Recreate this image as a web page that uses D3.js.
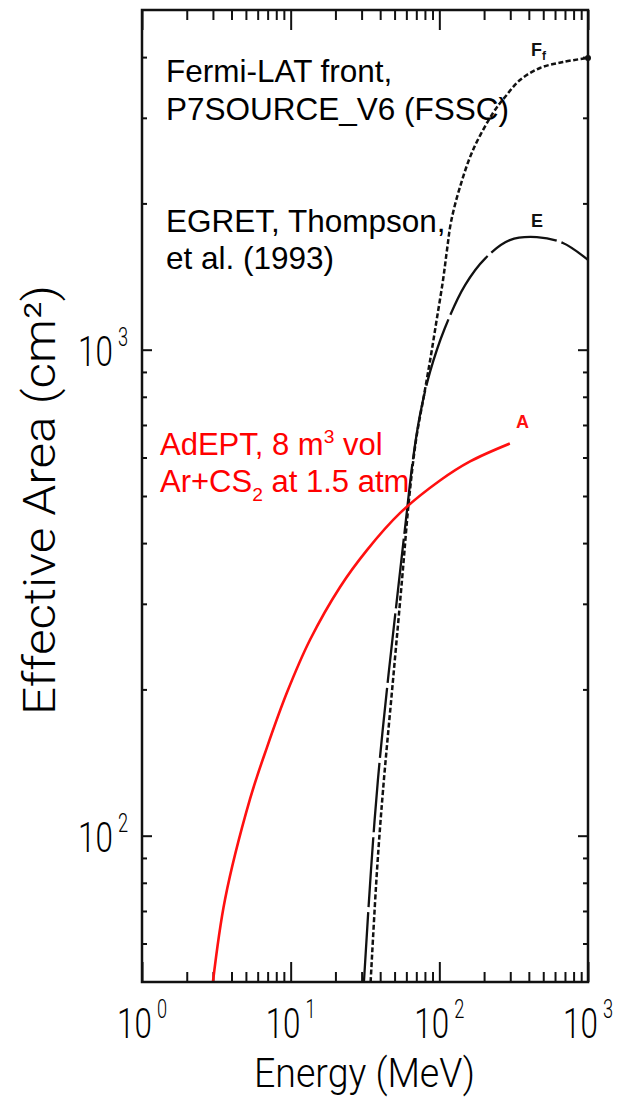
<!DOCTYPE html>
<html>
<head>
<meta charset="utf-8">
<script src="https://cdn.jsdelivr.net/npm/d3@7"></script>
<style>
  body { margin: 0; background: #fff; }
  svg { display: block; }
  text { font-family: "Liberation Sans", Arial, Helvetica, sans-serif; }
  .axfont { font-family: Roboto, "Liberation Sans", sans-serif; font-weight: 300; }
</style>
</head>
<body>
<script>

// axis ticks
var energyTicks = [1, 10, 100, 1000];   // MeV
var areaTicks = [100, 1000];            // cm^2

// AdEPT (red, "A")
var adeptE = [3.0, 3.62, 5.33, 6.93, 9.44, 13.5, 21.5, 32.6, 54.3, 101, 161, 298];
var adeptA = [50, 74, 119, 152, 197, 253, 325, 387, 461, 538, 589, 641];

// EGRET, Thompson et al. 1993 ("E", long dashes)
var egretE = [31.1, 34.7, 38.6, 45.1, 52.7, 59.6, 66.4, 74.1, 86.5, 109, 149, 203, 298, 453, 678, 1000];
var egretA = [50, 85, 130, 209, 320, 446, 593, 734, 899, 1108, 1358, 1540, 1681, 1705, 1658, 1530];

// Fermi-LAT front P7SOURCE_V6 ("Ff", short dashes)
var fermiE = [34.5, 38.1, 41.8, 48.8, 56.1, 62.5, 69.7, 78.9, 87.9, 96.4, 105.9, 112.6, 119.8, 137.7, 168.5, 229.6, 276.6, 348.8, 475.4, 679, 1000];
var fermiA = [50, 85, 124, 209, 336, 491, 652, 807, 975, 1162, 1391, 1604, 1831, 2162, 2576, 3069, 3311, 3589, 3799, 3908, 3985];

var margin = {top: 10, right: 31, bottom: 119, left: 142};
var width = 619 - margin.left - margin.right,
    height = 1101 - margin.top - margin.bottom;

var svg = d3.select("body").append("svg")
    .attr("width", 619)
    .attr("height", 1101);

var x = d3.scaleLog().domain([1, 1000]).range([margin.left, margin.left + width]);
var y = d3.scaleLog().domain([50, 5000]).range([margin.top + height, margin.top]);

var x0 = margin.left, x1 = margin.left + width;
var y0 = margin.top + height, y1 = margin.top;

function isDecade(v) {
    var l = Math.log10(v);
    return Math.abs(l - Math.round(l)) < 1e-9;
}
var xMinor = x.ticks().filter(function (d) { return !isDecade(d); });
var yMinor = y.ticks().filter(function (d) { return !isDecade(d) && d > 50 && d < 5000; });

// inward ticks on all four sides
function tickAxis(axis, vals, size, tx, ty) {
    svg.append("g")
        .attr("transform", "translate(" + tx + "," + ty + ")")
        .call(axis.tickValues(vals).tickSize(size).tickSizeOuter(0).tickFormat(""))
        .call(function (g) {
            g.select(".domain").remove();
            g.selectAll("line").attr("stroke", "#111").attr("stroke-width", 2);
        });
}
tickAxis(d3.axisBottom(x), xMinor, -10, 0, y0);
tickAxis(d3.axisBottom(x), energyTicks, -20, 0, y0);
tickAxis(d3.axisTop(x), xMinor, -10, 0, y1);
tickAxis(d3.axisTop(x), energyTicks, -20, 0, y1);
tickAxis(d3.axisLeft(y), yMinor, -5, x0, 0);
tickAxis(d3.axisLeft(y), areaTicks, -10, x0, 0);
tickAxis(d3.axisRight(y), yMinor, -5, x1, 0);
tickAxis(d3.axisRight(y), areaTicks, -10, x1, 0);

// curves
var line = d3.line()
    .x(function (d) { return x(d[0]); })
    .y(function (d) { return y(d[1]); })
    .curve(d3.curveCatmullRom.alpha(0.5));

svg.append("path")
    .datum(d3.zip(egretE, egretA))
    .attr("d", line)
    .attr("fill", "none")
    .attr("stroke", "#111")
    .attr("stroke-width", 2.3)
    .attr("stroke-dasharray", "70,5");

svg.append("path")
    .datum(d3.zip(fermiE, fermiA))
    .attr("d", line)
    .attr("fill", "none")
    .attr("stroke", "#111")
    .attr("stroke-width", 2.5)
    .attr("stroke-dasharray", "5,2.5");

svg.append("circle")
    .attr("cx", x(fermiE[fermiE.length - 1]))
    .attr("cy", y(fermiA[fermiA.length - 1]))
    .attr("r", 3)
    .attr("fill", "#111");

svg.append("path")
    .datum(d3.zip(adeptE, adeptA))
    .attr("d", line)
    .attr("fill", "none")
    .attr("stroke", "#ff1010")
    .attr("stroke-width", 2.6);

// frame
svg.append("rect")
    .attr("x", x0).attr("y", y1)
    .attr("width", width).attr("height", height)
    .attr("fill", "none")
    .attr("stroke", "#111")
    .attr("stroke-width", 2.5);

// tick labels 10^n (narrow face: squeezed horizontally)
function powLabel(bx, by, n) {
    var t = svg.append("text").attr("class", "axfont")
        .attr("transform", "translate(" + bx + "," + by + ") scale(0.73,1)")
        .attr("font-size", 43);
    t.append("tspan").text("10");
    t.append("tspan").attr("font-size", 25).attr("dx", 7).attr("dy", -20).text(n);
}
energyTicks.forEach(function (d) {
    powLabel(x(d) - 25, y0 + 56, Math.round(Math.log10(d)));
});
areaTicks.forEach(function (d) {
    powLabel(78, y(d) + 16, Math.round(Math.log10(d)));
});

// axis titles
svg.append("text").attr("class", "axfont")
    .attr("x", 254).attr("y", 1087)
    .attr("font-size", 40)
    .attr("textLength", 221).attr("lengthAdjust", "spacingAndGlyphs")
    .text("Energy  (MeV)");

svg.append("text").attr("class", "axfont")
    .attr("transform", "translate(55,715) rotate(-90)")
    .attr("font-size", 44)
    .attr("textLength", 430).attr("lengthAdjust", "spacingAndGlyphs")
    .text("Effective  Area  (cm²)");

// curve tags
function tag(px, py, main, sub, color) {
    var t = svg.append("text").attr("x", px).attr("y", py)
        .attr("font-size", 18).attr("font-weight", "bold").attr("fill", color);
    t.append("tspan").text(main);
    if (sub) t.append("tspan").attr("font-size", 12).attr("dy", 4).text(sub);
}
tag(531, 56, "F", "f", "#111");
tag(531, 227, "E", null, "#111");
tag(516, 428, "A", null, "#ff1010");

// annotations
function note(px, py, parts, color, size) {
    var t = svg.append("text").attr("x", px).attr("y", py)
        .attr("font-size", size).attr("fill", color);
    parts.forEach(function (p) {
        var s = t.append("tspan").text(p.t);
        if (p.sup) s.attr("font-size", size * 0.62).attr("dy", -size * 0.38);
        if (p.sub) s.attr("font-size", size * 0.62).attr("dy", size * 0.3);
        if (p.back) s.attr("dy", p.back);
    });
}
note(166, 82, [{t: "Fermi-LAT front,"}], "#000", 31.5);
note(166, 120, [{t: "P7SOURCE_V6 (FSSC)"}], "#000", 31.5);
note(166, 232, [{t: "EGRET, Thompson,"}], "#000", 31.5);
note(166, 269, [{t: "et al. (1993)"}], "#000", 31.5);
note(160, 455, [{t: "AdEPT, 8 m"}, {t: "3", sup: true}, {t: " vol", back: 31 * 0.38}], "#ff0000", 31);
note(160, 492, [{t: "Ar+CS"}, {t: "2", sub: true}, {t: " at 1.5 atm", back: -31 * 0.3}], "#ff0000", 31);

</script>
</body>
</html>
